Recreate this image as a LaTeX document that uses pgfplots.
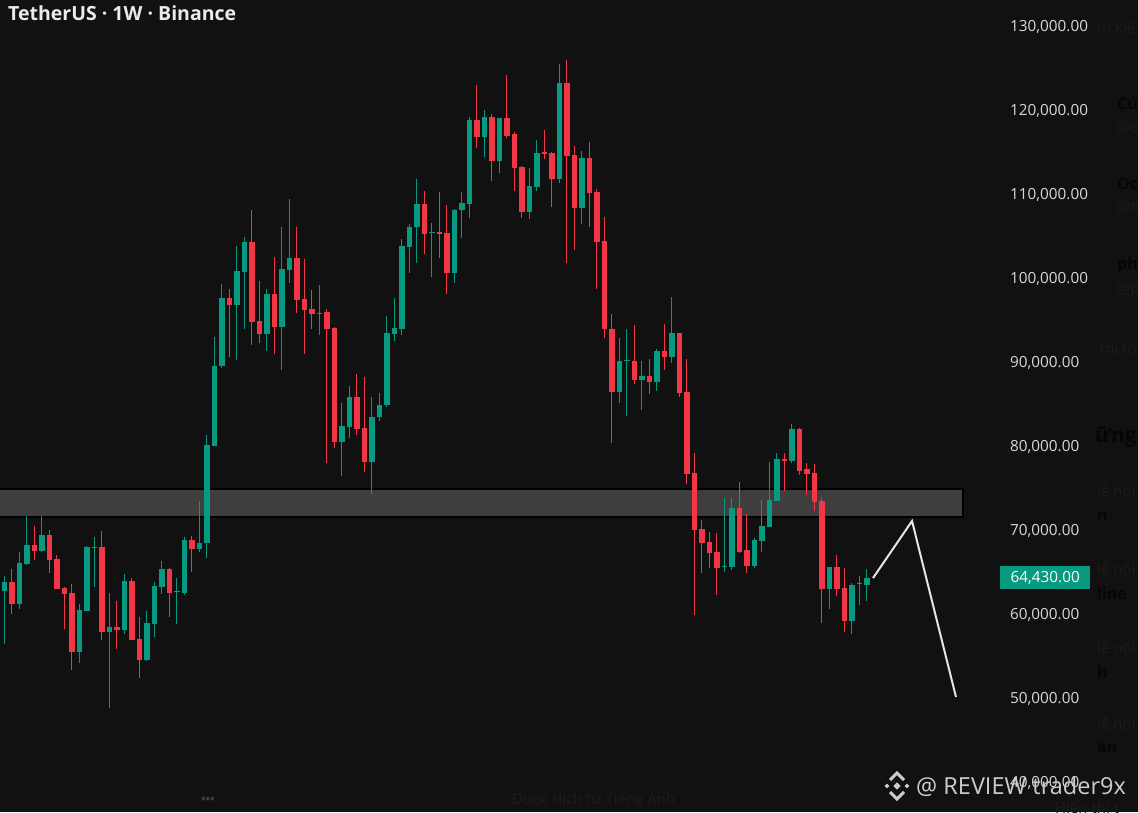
\documentclass[border=0pt]{standalone}
\usepackage{pgfplots}
\pgfplotsset{compat=1.18}
\usepackage{pgfplotstable}
\usepackage{fontspec}
\setmainfont{Open Sans}
\definecolor{bg}{HTML}{111111}
\definecolor{upc}{HTML}{089981}
\definecolor{downc}{HTML}{F23645}
\definecolor{band}{HTML}{3E3E3E}
\definecolor{lbl}{HTML}{D6D8DE}
\definecolor{fadeg}{HTML}{1C1C1C}
\definecolor{fadeb}{HTML}{060606}

\pgfplotstableread{
i o h l c g
0 65000 65600 62500 63900 0
1 62900 64640 56510 63970 1
2 63970 65440 60120 61310 0
3 61310 67540 60670 66230 1
4 66110 71790 65950 68330 1
5 68330 70630 66510 67580 0
6 67580 71790 67540 69560 1
7 69560 70080 65040 66510 0
8 66630 67140 63060 63060 0
9 63170 63290 58370 62500 0
10 62620 63690 53450 55590 0
11 55590 61270 54250 60600 1
12 60520 68210 60520 68100 1
13 68000 69290 63290 68020 1
14 68100 69960 57020 57980 0
15 57980 62620 48890 58610 1
16 58610 61710 55950 58250 0
17 58250 64880 57700 64090 1
18 64090 64370 57020 57020 0
19 57140 59720 52500 54640 0
20 54640 60480 54520 59010 1
21 58930 63930 57420 63450 1
22 63290 66390 62500 65440 1
23 65440 65560 59720 62660 0
24 62700 64370 58890 62740 1
25 62660 69290 62380 68890 1
26 68890 69400 65160 67860 0
27 67860 73570 67460 68610 1
28 68610 81430 66830 80240 1
29 80120 93140 80120 89680 1
30 89640 99400 89370 97700 1
31 97700 98770 90670 96940 0
32 96940 103970 90400 100910 1
33 100830 105040 94010 104370 1
34 104370 108210 92140 94920 0
35 95040 99800 92420 93490 0
36 93490 98770 91470 98210 1
37 98210 102660 91070 94290 0
38 94290 106230 89170 101190 1
39 101070 109480 99480 102500 1
40 102500 106230 95990 97500 0
41 97580 102380 91070 96270 0
42 96390 98690 94010 95870 0
43 95870 99290 93330 95990 1
44 96110 96390 78130 94010 0
45 94130 94250 79840 80560 0
46 80560 85200 76550 82500 1
47 82420 87300 81030 85950 1
48 85950 88690 81430 82140 0
49 82220 88370 77060 78250 0
50 78250 85990 74400 83530 1
51 83530 86390 83130 85000 1
52 85000 95600 84800 93570 1
53 93490 97700 92660 94130 1
54 94010 104760 93330 103970 1
55 103850 106510 100680 106230 1
56 106150 111870 101870 108930 1
57 108930 110520 102940 105360 0
58 105480 106630 100280 105560 1
59 105560 110400 102540 105320 0
60 105440 108810 98180 100680 0
61 100680 108330 99480 108210 1
62 108180 110400 104920 109010 1
63 108930 119330 107300 118930 1
64 118930 123100 115640 116950 0
65 116950 120120 114560 119330 1
66 119330 119600 111710 114050 0
67 114050 119210 112580 119210 1
68 119210 124290 116750 117060 0
69 117220 117460 110520 113180 0
70 113290 113450 107220 108020 0
71 108020 113180 107100 111070 1
72 110950 116550 110520 115040 1
73 115040 117740 114290 114920 0
74 115040 115160 108530 111910 0
75 111910 125600 111470 123290 1
76 123290 126070 101870 114680 0
77 114760 115870 103450 108410 0
78 108410 115280 106550 114370 1
79 114370 116270 106150 110280 0
80 110400 110680 98810 104450 0
81 104520 107340 92940 94010 0
82 94090 95830 80520 86510 0
83 86510 92940 85200 90240 1
84 90200 94010 83730 90240 1
85 90240 94520 87460 87980 0
86 87980 90240 84410 88490 1
87 88490 90480 86270 87740 0
88 87740 91670 86670 91470 1
89 91470 94640 89170 90750 0
90 90750 97900 89960 93610 1
91 93610 93610 85990 86390 0
92 86510 90480 75600 76790 0
93 76870 79330 60000 70120 0
94 70240 71310 65040 68610 0
95 68730 69920 65560 67420 0
96 67540 69800 62380 65560 0
97 65710 73970 65160 65750 1
98 65710 73890 65360 72780 1
99 72780 75790 67340 67540 0
100 67740 71980 64960 65830 0
101 65830 69130 65560 68930 1
102 68810 73690 67540 70640 1
103 70520 78250 70520 73690 1
104 73610 79330 73610 78530 1
105 78530 79330 74800 78330 0
106 78330 82740 78140 82100 1
107 82100 82220 76670 77180 0
108 77340 78140 74290 76790 0
109 76870 77980 72420 73490 0
110 73570 73890 59010 63060 0
111 63060 65670 60670 65670 1
112 65670 67140 62260 63060 0
113 63170 65560 58020 59330 0
114 59330 63850 57700 63570 1
115 63690 64640 61190 63730 1
116 63570 65440 61710 64430 1
}\candles

\begin{document}
\begin{tikzpicture}[x=1pt,y=1pt]
\useasboundingbox (0,0) rectangle (1138,812);
\fill[bg] (0,0) rectangle (1138,812);
\begin{axis}[
  at={(0pt,0pt)}, anchor=south west,
  width=1000pt, height=812pt, scale only axis,
  xmin=0.4267, xmax=133.76, ymin=36548, ymax=133214,
  clip mode=individual,
  axis line style={draw=none},
  major tick length=0pt,
  xtick=\empty,
  ytick={40000,50000,60000,70000,80000,90000,100000,110000,120000,130000},
  scaled y ticks=false,
  yticklabel pos=right,
  yticklabel style={anchor=west, inner sep=0pt, xshift=10pt, text=lbl, font=\fontsize{15.3}{17}\selectfont},
  /pgf/number format/.cd, fixed, fixed zerofill, precision=2, 1000 sep={,}, assume math mode=true,
]
% support / resistance band
\fill[band] (axis cs:0.4267,71700) rectangle (axis cs:128.83,75000);
\draw[black, line width=2pt] (axis cs:0.4267,75000) -- (axis cs:128.83,75000) -- (axis cs:128.83,71700) -- (axis cs:0.4267,71700);
% wicks
\addplot[draw=none, mark=none, forget plot,
  restrict expr to domain={\thisrow{g}}{0.5:1.5},
  error bars/.cd, y dir=plus, y explicit, error mark=none,
  error bar style={draw=upc, line width=1.1pt}]
  table[x=i, y=l, y error plus expr={\thisrow{h}-\thisrow{l}}] {\candles};
\addplot[draw=none, mark=none, forget plot,
  restrict expr to domain={\thisrow{g}}{-0.5:0.5},
  error bars/.cd, y dir=plus, y explicit, error mark=none,
  error bar style={draw=downc, line width=1.1pt}]
  table[x=i, y=l, y error plus expr={\thisrow{h}-\thisrow{l}}] {\candles};
% bodies
\addplot[draw=none, mark=none, forget plot,
  restrict expr to domain={\thisrow{g}}{0.5:1.5},
  error bars/.cd, y dir=plus, y explicit, error mark=none,
  error bar style={draw=upc, line width=5.6pt}]
  table[x=i, y expr={min(\thisrow{o},\thisrow{c})}, y error plus expr={max(abs(\thisrow{c}-\thisrow{o}),140)}] {\candles};
\addplot[draw=none, mark=none, forget plot,
  restrict expr to domain={\thisrow{g}}{-0.5:0.5},
  error bars/.cd, y dir=plus, y explicit, error mark=none,
  error bar style={draw=downc, line width=5.6pt}]
  table[x=i, y expr={min(\thisrow{o},\thisrow{c})}, y error plus expr={max(abs(\thisrow{c}-\thisrow{o}),140)}] {\candles};
% projection line
\addplot[color=white!90!black, line width=2pt, mark=none] coordinates {(116.83,64400) (122.03,71190) (127.89,50240)};
% last price label
\node[anchor=west, fill=upc, text=white, minimum width=90pt, minimum height=23pt, inner sep=0pt,
  font=\fontsize{15.3}{17}\selectfont] at (axis cs:133.76,64430) {64,430.00};
\end{axis}
% title
\node[anchor=west, text=white!92!black, font=\fontsize{19.5}{22}\selectfont\bfseries, inner sep=0pt] at (8,799) {TetherUS · 1W · Binance};
% side panel fragments
\begin{scope}[every node/.style={anchor=west, inner sep=0pt}]
\node[text=fadeg, font=\fontsize{15}{17}\selectfont] at (1097,785) {m kiế};
\node[text=fadeb, font=\fontsize{16}{18}\selectfont\bfseries] at (1117,709) {Cú};
\node[text=fadeg, font=\fontsize{15}{17}\selectfont] at (1117,684) {@c};
\node[text=fadeb, font=\fontsize{16}{18}\selectfont\bfseries] at (1117,628) {Oc};
\node[text=fadeg, font=\fontsize{15}{17}\selectfont] at (1117,604) {@N};
\node[text=fadeb, font=\fontsize{16}{18}\selectfont\bfseries] at (1117,547) {ph};
\node[text=fadeg, font=\fontsize{15}{17}\selectfont] at (1117,522) {@p};
\node[text=fadeg, font=\fontsize{15}{17}\selectfont] at (1100,462) {thị th};
\node[text=fadeb, font=\fontsize{21}{23}\selectfont\bfseries] at (1095,375) {ững};
\node[text=fadeg, font=\fontsize{15}{17}\selectfont] at (1097,322) {lễ nổi};
\node[text=fadeb, font=\fontsize{16}{18}\selectfont\bfseries] at (1097,295) {n};
\node[text=fadeg, font=\fontsize{15}{17}\selectfont] at (1097,244) {lễ nổi};
\node[text=fadeb, font=\fontsize{16}{18}\selectfont\bfseries] at (1097,218) {line};
\node[text=fadeg, font=\fontsize{15}{17}\selectfont] at (1097,165) {lễ nổi};
\node[text=fadeb, font=\fontsize{16}{18}\selectfont\bfseries] at (1097,140) {h};
\node[text=fadeg, font=\fontsize{15}{17}\selectfont] at (1097,89) {lễ nổi};
\node[text=fadeb, font=\fontsize{16}{18}\selectfont\bfseries] at (1097,64) {an};
\node[text=fadeg, font=\fontsize{15}{17}\selectfont] at (1055,4) {Hiển thị t};
\node[text=fadeg, font=\fontsize{15}{17}\selectfont] at (512,12) {Được dịch từ Tiếng Anh};
\node[text=white!25!black, font=\fontsize{12}{14}\selectfont\bfseries] at (201,12) {•••};
\end{scope}
% watermark
\begin{scope}[white!80!black]
\fill[rotate around={45:(897,26)}] (894.5,23.5) rectangle (899.5,28.5);
\fill[rotate around={45:(887,26)}] (885.3,24.3) rectangle (888.7,27.7);
\fill[rotate around={45:(907,26)}] (905.3,24.3) rectangle (908.7,27.7);
\draw[line width=3pt] (890,32) -- (897,39) -- (904,32);
\draw[line width=3pt] (890,20) -- (897,13) -- (904,20);
\end{scope}
\node[anchor=base west, inner sep=0pt, text=white!80!black, font=\fontsize{23.5}{26}\selectfont] at (916,18) {@ REVIEW trader9x};
\end{tikzpicture}
\end{document}
